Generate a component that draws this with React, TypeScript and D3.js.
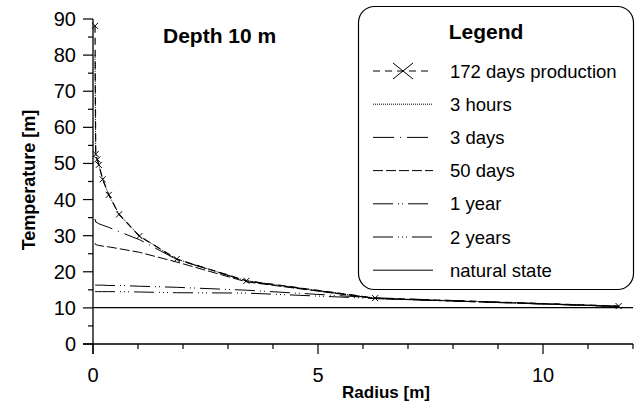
import React from "react";
import * as d3 from "d3";

const radius = [0.045, 0.06, 0.095, 0.13, 0.215, 0.35, 0.58, 1.03, 1.86, 3.41, 6.27, 11.68];
const production = [88.1, 52.6, 51.1, 49.6, 45.6, 41.3, 35.9, 29.9, 23.5, 17.5, 12.7, 10.5];
const hours3 = [80.0, 52.6, 51.1, 49.6, 45.6, 41.3, 35.9, 29.9, 23.5, 17.5, 12.7, 10.5];
const days3 = [34.6, 33.8, 33.6, 33.3, 32.9, 32.3, 31.1, 28.9, 23.4, 17.4, 12.6, 10.4];
const days50 = [27.9, 27.5, 27.4, 27.3, 27.1, 26.9, 26.4, 25.4, 22.7, 17.2, 12.6, 10.4];
const year1 = [16.3, 16.3, 16.3, 16.3, 16.3, 16.2, 16.2, 16.0, 15.7, 14.9, 12.8, 10.4];
const years2 = [14.5, 14.5, 14.5, 14.5, 14.5, 14.5, 14.5, 14.4, 14.2, 14.1, 12.6, 10.4];
const naturalRadius = [0, 12];
const natural = [10.1, 10.1];

const xTicks = [0, 5, 10];
const yTicks = [0, 10, 20, 30, 40, 50, 60, 70, 80, 90];
const legendLabels = ["172 days production", "3 hours", "3 days", "50 days", "1 year", "2 years", "natural state"];

const FONT = "'Liberation Sans', Arial, Helvetica, sans-serif";

type Series = { xs: number[]; ys: number[]; dash: string; width: number; markers?: boolean };

export default function App() {
  const x = d3.scaleLinear().domain([0, 12]).range([93, 633]);
  const y = d3.scaleLinear().domain([0, 90]).range([344, 19]);
  const line = d3
    .line<[number, number]>()
    .x((d) => x(d[0]))
    .y((d) => y(d[1]));

  const series: Series[] = [
    { xs: radius, ys: production, dash: "7 5", width: 1.2, markers: true },
    { xs: radius, ys: hours3, dash: "1 1", width: 1 },
    { xs: radius, ys: days3, dash: "21 6 1 6", width: 1 },
    { xs: radius, ys: days50, dash: "10 3", width: 1 },
    { xs: radius, ys: year1, dash: "20 5 1 3 1 5", width: 1 },
    { xs: radius, ys: years2, dash: "20 5 1 3 1 3 1 5", width: 1 },
    { xs: naturalRadius, ys: natural, dash: "", width: 1.2 },
  ];

  const minorX = d3.range(1, 13).filter((v) => v % 5 !== 0);
  const minorY = d3.range(5, 90, 10);

  const legendRowY = (i: number) => 71 + i * 33.2;

  return (
    <svg width={638} height={404} style={{ position: "absolute", left: 0, top: 0, background: "#fff" }}>
      {/* axes */}
      <line x1={x(0)} x2={x(0)} y1={y(90)} y2={354} stroke="#000" strokeWidth={1.3} />
      <line x1={83} x2={x(12)} y1={y(0)} y2={y(0)} stroke="#000" strokeWidth={1.3} />
      {yTicks.map((t) => (
        <g key={"yt" + t}>
          <line x1={83} x2={x(0)} y1={y(t)} y2={y(t)} stroke="#000" strokeWidth={1.2} />
          <text x={76} y={y(t) + 7} textAnchor="end" fontFamily={FONT} fontSize={20}>
            {t}
          </text>
        </g>
      ))}
      {minorY.map((t) => (
        <line key={"ym" + t} x1={88} x2={x(0)} y1={y(t)} y2={y(t)} stroke="#000" strokeWidth={1.2} />
      ))}
      {xTicks.map((t) => (
        <g key={"xt" + t}>
          <line x1={x(t)} x2={x(t)} y1={y(0)} y2={354} stroke="#000" strokeWidth={1.2} />
          <text x={x(t)} y={382} textAnchor="middle" fontFamily={FONT} fontSize={20}>
            {t}
          </text>
        </g>
      ))}
      {minorX.map((t) => (
        <line key={"xm" + t} x1={x(t)} x2={x(t)} y1={y(0)} y2={349} stroke="#000" strokeWidth={1.2} />
      ))}

      {/* axis titles */}
      <text x={386} y={398} textAnchor="middle" fontFamily={FONT} fontSize={17} fontWeight="bold">
        Radius [m]
      </text>
      <text
        transform={`translate(35,180) rotate(-90)`}
        textAnchor="middle"
        fontFamily={FONT}
        fontSize={18}
        fontWeight="bold"
      >
        Temperature [m]
      </text>
      <text x={163} y={43} fontFamily={FONT} fontSize={21} fontWeight="bold">
        Depth 10 m
      </text>

      {/* series */}
      {series.map((s, i) => (
        <path
          key={"s" + i}
          d={line(s.xs.map((v, j) => [v, s.ys[j]] as [number, number])) || ""}
          fill="none"
          stroke="#000"
          strokeWidth={s.width}
          strokeDasharray={s.dash || undefined}
        />
      ))}
      {radius.map((r, i) => {
        const cx = x(r);
        const cy = y(production[i]);
        const m = 3;
        return (
          <path
            key={"m" + i}
            d={`M${cx - m},${cy - m}L${cx + m},${cy + m}M${cx - m},${cy + m}L${cx + m},${cy - m}`}
            stroke="#000"
            strokeWidth={1}
          />
        );
      })}

      {/* legend */}
      <rect x={358.5} y={6.5} width={275} height={283} rx={16} ry={16} fill="#fff" stroke="#000" strokeWidth={1.2} />
      <text x={486} y={39} textAnchor="middle" fontFamily={FONT} fontSize={21} fontWeight="bold">
        Legend
      </text>
      {legendLabels.map((lab, i) => {
        const ly = legendRowY(i);
        const s = series[i];
        return (
          <g key={"lg" + i}>
            <line x1={373} x2={433} y1={ly} y2={ly} stroke="#000" strokeWidth={1} strokeDasharray={s.dash || undefined} />
            {s.markers && (
              <path
                d={`M${403 - 10},${ly - 8}L${403 + 10},${ly + 8}M${403 - 10},${ly + 8}L${403 + 10},${ly - 8}`}
                stroke="#000"
                strokeWidth={1}
              />
            )}
            <text x={450} y={ly + 6.5} fontFamily={FONT} fontSize={18.5}>
              {lab}
            </text>
          </g>
        );
      })}
    </svg>
  );
}
